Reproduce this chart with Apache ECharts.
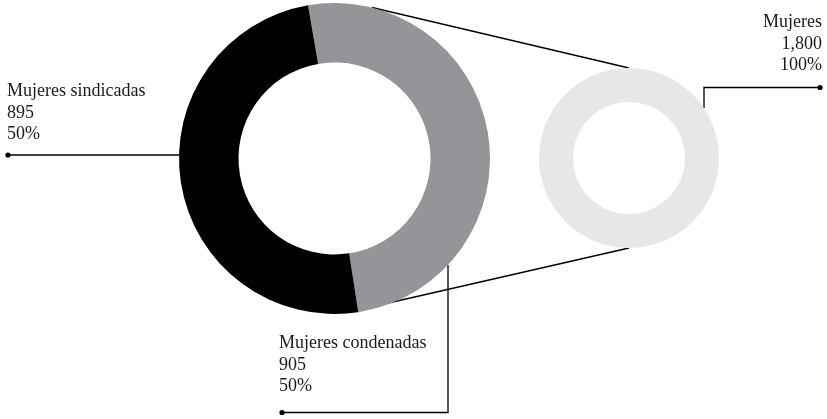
<!DOCTYPE html>
<html>
<head>
<meta charset="utf-8">
<script src="https://cdn.jsdelivr.net/npm/echarts@6/dist/echarts.min.js"></script>
<style>
    html, body { margin: 0; padding: 0; background: #fff; }
    #chart { width: 827px; height: 419px; }
</style>
</head>
<body>
<div id="chart"></div>
<script>
    'use strict';
    // breakdown of the total (big donut), gray slice first going clockwise
    var partNames = ['Mujeres condenadas', 'Mujeres sindicadas'];
    var partValues = [905, 895];
    var partColors = ['#939598', '#000000'];
    // total (small donut)
    var totalName = 'Mujeres';
    var totalValue = 1800;

    var font = '"Liberation Serif", "DejaVu Serif", serif';
    var bigCenter = [334.5, 158.5];
    var smallCenter = [629, 158];

    function fmt(v) {
        return v.toLocaleString('en-US');
    }

    function pct(v) {
        return Math.round(v / totalValue * 100) + '%';
    }

    function labelText(name, value) {
        return name + '\n' + fmt(value) + '\n' + pct(value);
    }

    function line(points) {
        return {
            type: 'polyline',
            silent: true,
            shape: {points: points},
            style: {stroke: '#000', lineWidth: 1.3, fill: null}
        };
    }

    function dot(x, y) {
        return {
            type: 'circle',
            silent: true,
            shape: {cx: x, cy: y, r: 2.6},
            style: {fill: '#000'}
        };
    }

    function label(text, x, y, align) {
        return {
            type: 'text',
            silent: true,
            x: x,
            y: y,
            style: {
                text: text,
                font: '18px ' + font,
                fill: '#1a1a1a',
                lineHeight: 21.5,
                align: align || 'left',
                verticalAlign: 'top'
            }
        };
    }

    var bigData = [];
    for (var i = 0; i < partNames.length; i++) {
        bigData.push({name: partNames[i], value: partValues[i], itemStyle: {color: partColors[i]}});
    }

    var option = {
        animation: false,
        series: [{
            type: 'pie',
            silent: true,
            center: bigCenter,
            radius: [96, 155.5],
            startAngle: 99.8,
            clockwise: true,
            label: {show: false},
            labelLine: {show: false},
            emphasis: {disabled: true},
            data: bigData
        }, {
            type: 'pie',
            silent: true,
            center: smallCenter,
            radius: [56, 90],
            label: {show: false},
            labelLine: {show: false},
            emphasis: {disabled: true},
            data: [{name: totalName, value: totalValue, itemStyle: {color: '#e6e7e8'}}]
        }],
        graphic: [
            // zoom lines from big donut to small donut
            line([[372, 7.5], [629, 68]]),
            line([[384, 304], [629, 248]]),
            // sindicadas leader
            line([[8, 155], [179, 155]]),
            dot(8, 155),
            // condenadas leader
            line([[448, 265], [448, 412.5], [282, 412.5]]),
            dot(282, 412.5),
            // total leader
            line([[704, 108], [704, 87.5], [820, 87.5]]),
            dot(820, 87.5),
            label(labelText(partNames[1], partValues[1]), 7, 81),
            label(labelText(partNames[0], partValues[0]), 279, 333),
            label(labelText(totalName, totalValue), 822, 12, 'right')
        ]
    };

    var chart = echarts.init(document.getElementById('chart'));
    chart.setOption(option);
</script>
</body>
</html>
